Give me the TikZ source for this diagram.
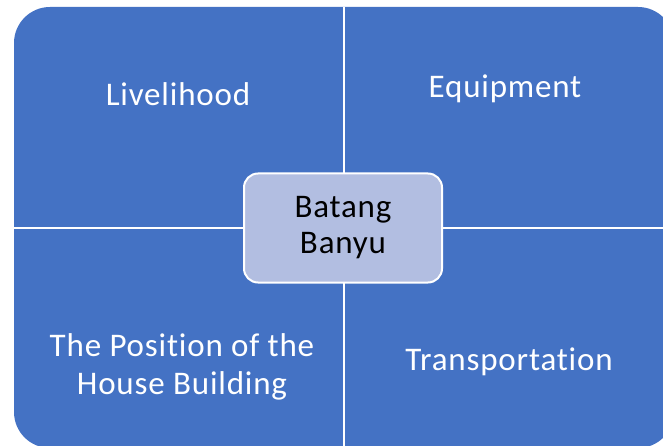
\documentclass[tikz,border=0pt]{standalone}
\usepackage{fontspec}
\setmainfont{Carlito}[LetterSpace=2.5,Ligatures=NoCommon]
\definecolor{qblue}{RGB}{68,114,196}
\definecolor{cfill}{RGB}{178,190,225}
\tikzset{
  lbl/.style={text=white, font=\fontsize{33}{38}\selectfont, align=center, inner sep=0pt},
  center/.style={draw=white, line width=2pt, fill=cfill, rounded corners=14pt, minimum width=198pt, minimum height=109pt, font=\fontsize{33}{36}\selectfont, align=center, text=black},
  divider/.style={draw=white, line width=2.6pt}
}
\begin{document}
\begin{tikzpicture}[x=1pt,y=-1pt]
\useasboundingbox (0,0) rectangle (663,446);
\clip (0,0) rectangle (663,446);
\fill[qblue, rounded corners=36pt] (14,7) rectangle (674,448);
\coordinate (vt) at (344,7);
\coordinate (vb) at (344,448);
\coordinate (hl) at (14,228);
\coordinate (hr) at (674,228);
\draw[divider] (vt) -- (vb);
\draw[divider] (hl) -- (hr);
\node[center] (bb) at (343,228) {Batang\\Banyu};
\node[lbl] (liv) at (178,94) {Livelihood};
\node[lbl] (eq) at (505,89) {Equipment};
\node[lbl] (pos) at (182,367) {The Position of the\\House Building};
\node[lbl] (tr) at (509,362) {Transportation};
\end{tikzpicture}
\end{document}
